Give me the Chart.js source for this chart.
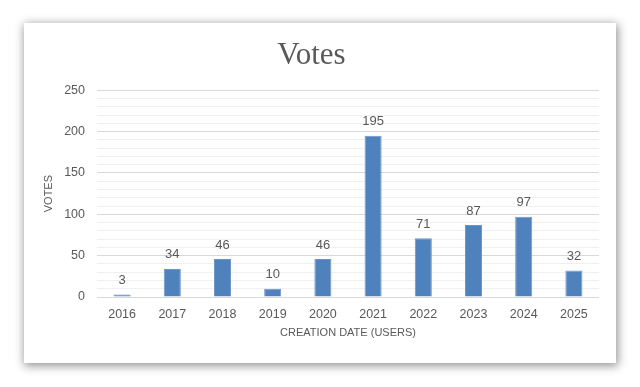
<!DOCTYPE html>
<html>
<head>
<meta charset="utf-8">
<script src="https://cdn.jsdelivr.net/npm/chart.js@4.4.0/dist/chart.umd.min.js"></script>
<style>
  html, body { margin: 0; padding: 0; background: #ffffff; width: 640px; height: 387px; overflow: hidden; }
  #card { position: absolute; left: 24px; top: 23px; width: 592px; height: 340px; background: #fff;
          box-shadow: 1px 2px 9px 1px rgba(0,0,0,0.42); }
  canvas { display: block; }
</style>
</head>
<body>
<div id="card"><canvas id="c" width="592" height="340"></canvas></div>
<script>
const categories = ["2016","2017","2018","2019","2020","2021","2022","2023","2024","2025"];
const votes = [3, 34, 46, 10, 46, 195, 71, 87, 97, 32];
const yTicks = [0, 50, 100, 150, 200, 250];
const chartTitle = "Votes";
const xTitle = "CREATION DATE (USERS)";
const yTitle = "VOTES";

const TXT = '#595959';
const FONT = "'Liberation Sans', Arial, sans-serif";

const labelsPlugin = {
  id: 'barLabels',
  afterDatasetsDraw(chart) {
    const ctx = chart.ctx;
    const meta = chart.getDatasetMeta(0);
    ctx.save();
    ctx.fillStyle = TXT;
    ctx.font = "13px " + FONT;
    ctx.textAlign = 'center';
    ctx.textBaseline = 'middle';
    meta.data.forEach((bar, i) => {
      ctx.fillText(String(chart.data.datasets[0].data[i]), bar.x, bar.y - 14);
    });
    ctx.restore();
  }
};

new Chart(document.getElementById('c'), {
  type: 'bar',
  data: {
    labels: categories,
    datasets: [{
      data: votes,
      backgroundColor: '#4f81bd',
      borderColor: '#6b95c8',
      borderWidth: 1,
      categoryPercentage: 1,
      barPercentage: 0.34
    }]
  },
  options: {
    responsive: false,
    animation: false,
    layout: { padding: { left: 0, right: 17, top: 0, bottom: 0 } },
    plugins: {
      legend: { display: false },
      tooltip: { enabled: false },
      title: {
        display: true,
        text: chartTitle,
        color: TXT,
        font: { family: "'Liberation Serif', 'DejaVu Serif', serif", size: 31, weight: 'normal' },
        padding: { top: 14, bottom: 16 }
      }
    },
    scales: {
      x: {
        grid: { display: false, drawTicks: false },
        border: { display: false },
        ticks: { color: TXT, font: { family: FONT, size: 12.5 }, padding: 10 },
        title: { display: true, text: xTitle, color: TXT, font: { family: FONT, size: 11 }, padding: { top: 0, bottom: 23 } },
        afterFit(scale) { scale.height = 66; }
      },
      y: {
        min: 0, max: 250,
        grid: {
          drawTicks: false,
          color: c => (c.tick && c.tick.value % 50 === 0) ? '#d9d9d9' : '#f0f0f0',
          lineWidth: 1
        },
        border: { display: false },
        ticks: {
          stepSize: 10,
          autoSkip: false,
          color: TXT,
          font: { family: FONT, size: 12.5 },
          padding: 12,
          callback: v => yTicks.includes(v) ? String(v) : ''
        },
        title: { display: true, text: yTitle, color: TXT, font: { family: FONT, size: 11 }, padding: { top: 18, bottom: 0 } },
        afterFit(scale) { scale.width = 73; }
      }
    }
  },
  plugins: [labelsPlugin]
});
</script>
</body>
</html>
